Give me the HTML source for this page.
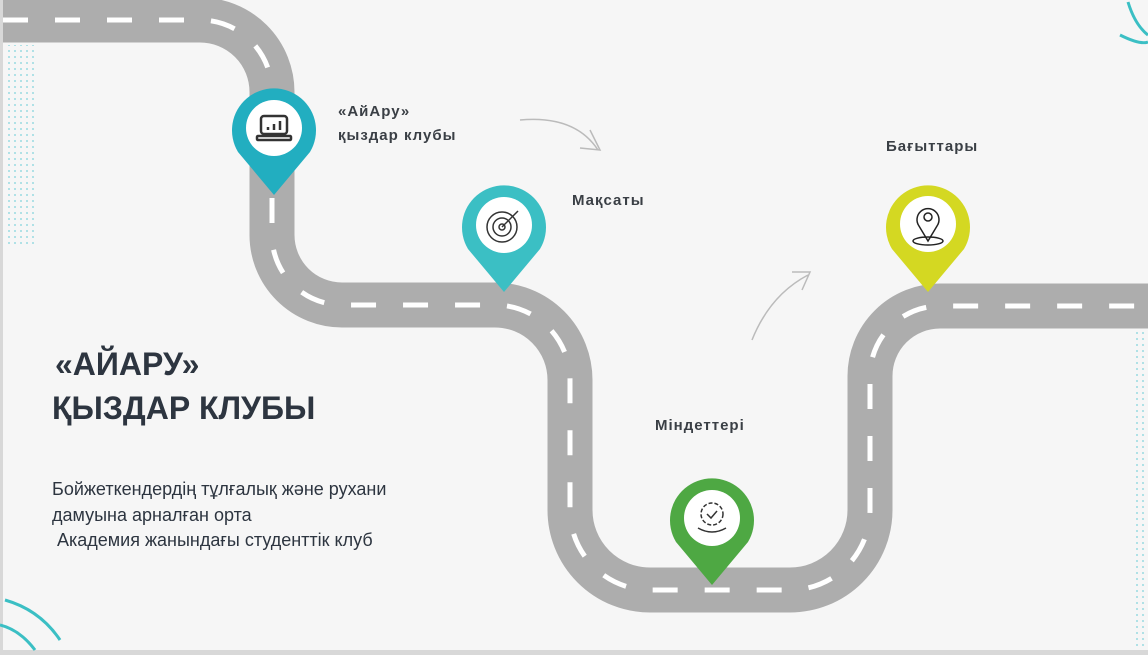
<!DOCTYPE html>
<html><head><meta charset="utf-8"><style>
html,body{margin:0;padding:0}
body{width:1148px;height:655px;background:#f6f6f6;position:relative;overflow:hidden;font-family:"Liberation Sans","DejaVu Sans",sans-serif}
.t{position:absolute;color:#3a3f45;font-weight:bold;font-size:15px;letter-spacing:1px;white-space:nowrap}
.h{position:absolute;color:#2d3540;font-weight:bold;font-size:32px;white-space:nowrap}
.b{position:absolute;color:#2d3540;font-size:18px;line-height:25.5px;white-space:pre}
</style></head><body>
<svg width="1148" height="655" style="position:absolute;left:0;top:0">
<defs>
<pattern id="dots" width="6" height="6" patternUnits="userSpaceOnUse"><circle cx="3" cy="3" r="1" fill="#5cc8d4"/></pattern>
</defs>
<rect x="0" y="0" width="3" height="655" fill="#d8d8d8"/>
<rect x="0" y="650" width="1148" height="5" fill="#d8d8d8"/>
<rect x="4" y="45" width="32" height="200" fill="url(#dots)" opacity="0.6"/>
<rect x="1134" y="330" width="14" height="320" fill="url(#dots)" opacity="0.6"/>
<path d="M1120,35 Q1140,45 1148,42 M1128,2 Q1135,25 1148,35" stroke="#3bbfc4" stroke-width="3" fill="none"/>
<path d="M5,600 Q40,610 60,640 M0,625 Q20,630 35,650" stroke="#3bbfc4" stroke-width="3" fill="none"/>
<path d="M3,20 H200 A72,72 0 0 1 272,92 V235 A70,70 0 0 0 342,305 H495 A75,75 0 0 1 570,380 V510 A80,80 0 0 0 650,590 H790 A80,80 0 0 0 870,510 V376 A70,70 0 0 1 940,306 H1148" stroke="#adadad" stroke-width="45" fill="none"/>
<path d="M3,20 H200 A72,72 0 0 1 272,92 V235 A70,70 0 0 0 342,305 H495 A75,75 0 0 1 570,380 V510 A80,80 0 0 0 650,590 H790 A80,80 0 0 0 870,510 V376 A70,70 0 0 1 940,306 H1148" stroke="#fff" stroke-width="5" stroke-dasharray="25 27" fill="none"/>
<path d="M520,120 Q575,115 598,150 M590,130 L600,150 L580,148" stroke="#bbb" stroke-width="1.5" fill="none"/>
<path d="M752,340 Q770,295 808,275 M792,272 L810,272 L802,290" stroke="#bbb" stroke-width="1.5" fill="none"/>
<g>
<path d="M274,195 L238,152 A42,42 0 1 1 310,152 Z" fill="#22aec0"/><circle cx="274" cy="128" r="28" fill="#fff"/>
<rect x="261" y="116" width="26" height="18" rx="3" fill="none" stroke="#333" stroke-width="2.5"/><rect x="257" y="136" width="34" height="4" rx="1" fill="none" stroke="#333" stroke-width="2.5"/>
<path d="M268,130v-3M274,130v-6M280,130v-9" stroke="#333" stroke-width="2.5"/>
</g>
<g>
<path d="M504,292 L468,249 A42,42 0 1 1 540,249 Z" fill="#3bbfc4"/><circle cx="504" cy="225" r="28" fill="#fff"/>
<circle cx="502" cy="227" r="15" fill="none" stroke="#333" stroke-width="1.5"/><circle cx="502" cy="227" r="9" fill="none" stroke="#333" stroke-width="1.5"/><circle cx="502" cy="227" r="3" fill="none" stroke="#333" stroke-width="1.5"/><path d="M502,227 L518,211" stroke="#333" stroke-width="1.5"/>
</g>
<g>
<path d="M712,585 L676,542 A42,42 0 1 1 748,542 Z" fill="#4ea843"/><circle cx="712" cy="518" r="28" fill="#fff"/>
<circle cx="712" cy="514" r="11" fill="none" stroke="#333" stroke-width="1.5" stroke-dasharray="4 2"/><path d="M707,514 l4,4 l6,-7 M698,528 q14,8 28,0" stroke="#333" stroke-width="1.5" fill="none"/>
</g>
<g>
<path d="M928,292 L892,249 A42,42 0 1 1 964,249 Z" fill="#d4d822"/><circle cx="928" cy="224" r="28" fill="#fff"/>
<path d="M928,241 L919,226 A11,11 0 1 1 937,226 Z" fill="none" stroke="#222" stroke-width="1.5"/><circle cx="928" cy="217" r="4" fill="none" stroke="#222" stroke-width="1.5"/><ellipse cx="928" cy="241" rx="15" ry="4" fill="none" stroke="#222" stroke-width="1.5"/>
</g>
</svg>
<div class="t" style="left:338px;top:100px;line-height:24px">«АйАру»<br>қыздар клубы</div>
<div class="t" style="left:572px;top:192px">Мақсаты</div>
<div class="t" style="left:655px;top:417px">Міндеттері</div>
<div class="t" style="left:886px;top:138px">Бағыттары</div>
<div class="h" style="left:55px;top:346px"> «АЙАРУ»</div>
<div class="h" style="left:52px;top:390px">ҚЫЗДАР КЛУБЫ</div>
<div class="b" style="left:52px;top:477px">Бойжеткендердің тұлғалық және рухани
дамуына арналған орта
 Академия жанындағы студенттік клуб</div>
</body></html>
